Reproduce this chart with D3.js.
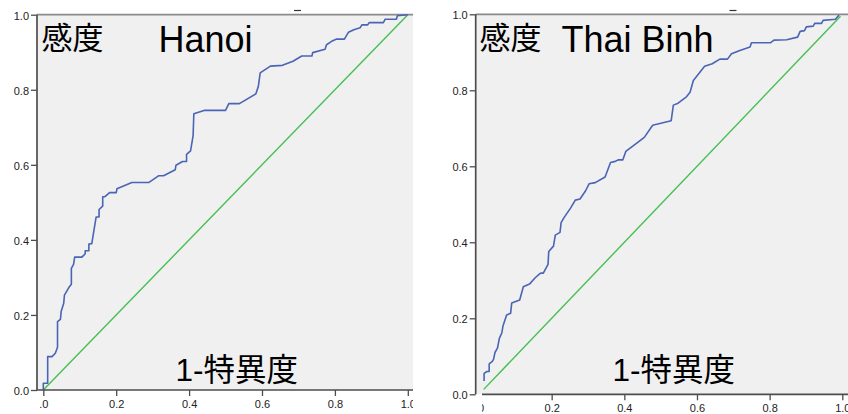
<!DOCTYPE html>
<html>
<head>
<meta charset="utf-8">
<script src="https://cdn.jsdelivr.net/npm/d3@7"></script>
<style>
  body { margin: 0; background: #fff; }
  svg { display: block; }
</style>
</head>
<body>
<svg id="chart" width="848" height="414"></svg>
<script>
// ROC curves: sensitivity (感度) against 1 - specificity (1-特異度)
const tickValues = [0, 0.2, 0.4, 0.6, 0.8, 1.0];
const yTickLabels = ["0.0", "0.2", "0.4", "0.6", "0.8", "1.0"];
const xTickLabels = [".0", "0.2", "0.4", "0.6", "0.8", "1.0"];
const regions = ["Hanoi", "Thai Binh"];
const yTitle = "感度";
const xTitle = "1-特異度";

const hanoiFpr = [0, 0, 0.012, 0.012, 0.024, 0.033, 0.039, 0.039, 0.047, 0.049, 0.056, 0.058, 0.072, 0.077, 0.077, 0.083, 0.086, 0.106, 0.115, 0.115, 0.125, 0.125, 0.133, 0.145, 0.153, 0.153, 0.163, 0.163, 0.169, 0.182, 0.2, 0.202, 0.243, 0.29, 0.317, 0.33, 0.362, 0.364, 0.382, 0.393, 0.393, 0.404, 0.411, 0.413, 0.441, 0.5, 0.509, 0.538, 0.583, 0.59, 0.595, 0.623, 0.656, 0.685, 0.709, 0.737, 0.739, 0.773, 0.777, 0.791, 0.805, 0.826, 0.837, 0.852, 0.869, 0.874, 0.89, 0.894, 0.933, 0.938, 0.969, 0.971, 1.0];
const hanoiTpr = [0, 0.018, 0.018, 0.089, 0.089, 0.098, 0.114, 0.182, 0.188, 0.209, 0.231, 0.253, 0.276, 0.282, 0.324, 0.335, 0.354, 0.354, 0.363, 0.371, 0.371, 0.389, 0.39, 0.461, 0.461, 0.481, 0.49, 0.515, 0.515, 0.526, 0.526, 0.536, 0.553, 0.553, 0.571, 0.571, 0.587, 0.599, 0.609, 0.609, 0.628, 0.637, 0.678, 0.736, 0.745, 0.745, 0.763, 0.763, 0.789, 0.809, 0.845, 0.863, 0.865, 0.876, 0.89, 0.89, 0.899, 0.908, 0.92, 0.929, 0.935, 0.935, 0.953, 0.96, 0.965, 0.973, 0.973, 0.979, 0.979, 0.988, 0.988, 0.997, 1.0];

const thaiBinhFpr = [0.014, 0.014, 0.022, 0.028, 0.028, 0.036, 0.04, 0.044, 0.051, 0.056, 0.063, 0.066, 0.076, 0.087, 0.09, 0.112, 0.122, 0.139, 0.154, 0.166, 0.17, 0.177, 0.19, 0.192, 0.205, 0.21, 0.223, 0.226, 0.234, 0.252, 0.265, 0.278, 0.293, 0.303, 0.32, 0.347, 0.362, 0.375, 0.384, 0.396, 0.404, 0.415, 0.437, 0.455, 0.478, 0.529, 0.535, 0.548, 0.571, 0.581, 0.59, 0.621, 0.642, 0.663, 0.684, 0.695, 0.718, 0.746, 0.75, 0.802, 0.812, 0.847, 0.877, 0.884, 0.896, 0.901, 0.92, 0.924, 0.943, 0.947, 0.981, 0.991];
const thaiBinhTpr = [0.035, 0.055, 0.06, 0.06, 0.08, 0.086, 0.092, 0.11, 0.122, 0.147, 0.162, 0.18, 0.209, 0.213, 0.24, 0.248, 0.283, 0.29, 0.306, 0.316, 0.319, 0.319, 0.342, 0.376, 0.39, 0.419, 0.426, 0.452, 0.465, 0.49, 0.511, 0.514, 0.535, 0.554, 0.557, 0.572, 0.61, 0.613, 0.617, 0.617, 0.639, 0.647, 0.663, 0.676, 0.708, 0.72, 0.761, 0.766, 0.783, 0.795, 0.826, 0.863, 0.87, 0.882, 0.882, 0.896, 0.905, 0.914, 0.925, 0.925, 0.932, 0.933, 0.94, 0.955, 0.957, 0.967, 0.969, 0.976, 0.976, 0.984, 0.987, 0.998];

// chance (reference) line endpoints
const hanoiRef = [0, 1];
const thaiBinhRef = [0.013, 0.995];

const panels = [
  { name: regions[0], fpr: hanoiFpr, tpr: hanoiTpr, ref: hanoiRef,
    frame: { l: 37, t: 14.7, r: 413, b: 390 }, xr: [43.3, 407.8],
    yTitleX: 41.5, nameX: 158.5, xTitleX: 175.5, xTitleY: 380.5, mark: 294,
    clipL: 0, clipR: 413 },
  { name: regions[1], fpr: thaiBinhFpr, tpr: thaiBinhTpr, ref: thaiBinhRef,
    frame: { l: 475.7, t: 14.3, r: 848, b: 394.3 }, xr: [479, 842.3],
    yTitleX: 479.5, nameX: 561.5, xTitleX: 612.5, xTitleY: 381, mark: 729.5,
    clipL: 482, clipR: 848 }
];

const svg = d3.select("#chart");
const latin = "'Liberation Sans', Arial, 'Noto Sans CJK JP', sans-serif";
const defs = svg.append("defs");

panels.forEach((p, i) => {
  const f = p.frame;
  const x = d3.scaleLinear().domain([0, 1]).range(p.xr);
  const y = d3.scaleLinear().domain([0, 1]).range([f.b, f.t]);
  const g = svg.append("g");

  // plot background
  g.append("rect")
    .attr("x", f.l).attr("y", f.t)
    .attr("width", f.r - f.l).attr("height", f.b - f.t)
    .attr("fill", "#f0f0f0");

  // top frame line
  g.append("line")
    .attr("x1", f.l).attr("x2", f.r).attr("y1", f.t).attr("y2", f.t)
    .attr("stroke", "#8a8a8a").attr("stroke-width", 1.8);

  // short mark above the frame
  g.append("line")
    .attr("x1", p.mark).attr("x2", p.mark + 7).attr("y1", 10.5).attr("y2", 10.5)
    .attr("stroke", "#333").attr("stroke-width", 1.2);

  // diagonal reference
  g.append("line")
    .attr("x1", x(p.ref[0])).attr("y1", y(p.ref[0]))
    .attr("x2", x(p.ref[1])).attr("y2", y(p.ref[1]))
    .attr("stroke", "#46bf52").attr("stroke-width", 1.4);

  // ROC curve
  const pts = p.fpr.map((v, k) => [v, p.tpr[k]]);
  g.append("path")
    .datum(pts)
    .attr("fill", "none")
    .attr("stroke", "#4a64b6")
    .attr("stroke-width", 1.6)
    .attr("stroke-linejoin", "round")
    .attr("d", d3.line().x(d => x(d[0])).y(d => y(d[1])));

  // y axis
  const yAxis = d3.axisLeft(y).tickValues(tickValues)
    .tickFormat((d, k) => yTickLabels[k]).tickSize(6).tickSizeOuter(0).tickPadding(2);
  const ya = g.append("g").attr("transform", `translate(${f.l},0)`).call(yAxis);
  ya.select(".domain").attr("stroke", "#4d4d4d").attr("stroke-width", 1.7)
    .attr("d", `M0,${f.t}V${f.b}`);
  ya.selectAll(".tick line").attr("stroke", "#4d4d4d").attr("stroke-width", 1.3);
  ya.selectAll(".tick text")
    .attr("font-family", latin).attr("font-size", 11).attr("fill", "#222")
    .attr("dy", "0.42em");

  // x axis (labels clipped at the panel edges)
  const clipId = "clip" + i;
  defs.append("clipPath").attr("id", clipId).append("rect")
    .attr("x", p.clipL).attr("y", 0).attr("width", p.clipR - p.clipL).attr("height", 414);
  const xAxis = d3.axisBottom(x).tickValues(tickValues)
    .tickFormat((d, k) => xTickLabels[k]).tickSize(6).tickSizeOuter(0).tickPadding(4);
  const xa = g.append("g").attr("clip-path", `url(#${clipId})`)
    .append("g").attr("transform", `translate(0,${f.b})`).call(xAxis);
  xa.select(".domain").attr("stroke", "#4d4d4d").attr("stroke-width", 1.7)
    .attr("d", `M${f.l},0H${f.r}`);
  xa.selectAll(".tick line").attr("stroke", "#4d4d4d").attr("stroke-width", 1.3);
  xa.selectAll(".tick text")
    .attr("font-family", latin).attr("font-size", 11).attr("fill", "#222");

  // titles inside the plot
  g.append("text")
    .attr("x", p.yTitleX).attr("y", 48.5)
    .attr("font-family", latin).attr("font-size", 31).attr("fill", "#000")
    .text(yTitle);
  g.append("text")
    .attr("x", p.nameX).attr("y", 51.5)
    .attr("font-family", latin).attr("font-size", 36).attr("fill", "#000")
    .text(p.name);
  g.append("text")
    .attr("x", p.xTitleX).attr("y", p.xTitleY)
    .attr("font-family", latin).attr("font-size", 31.5).attr("fill", "#000")
    .text(xTitle);
});
</script>
</body>
</html>
